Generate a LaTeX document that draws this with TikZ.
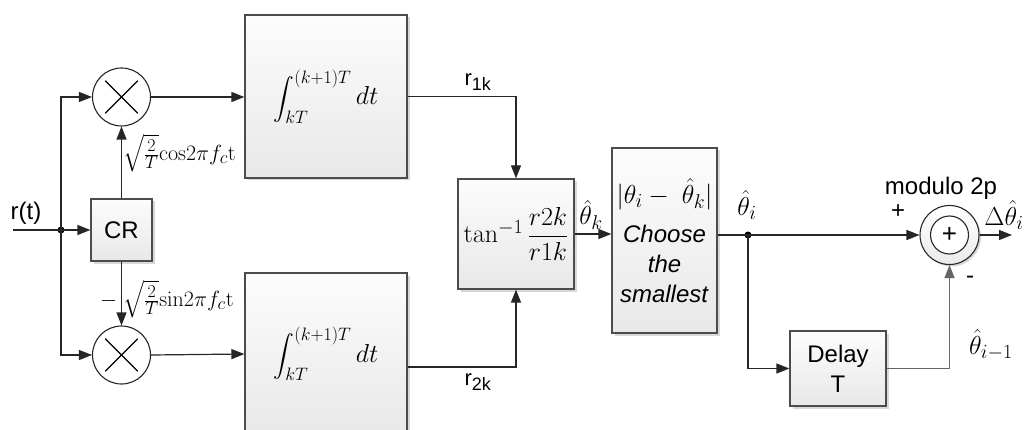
\RequirePackage{fix-cm}
\documentclass[tikz,border=0pt]{standalone}
\usepackage{amsmath}
\usepackage[no-math]{fontspec}
\setmainfont{Liberation Sans}
\usetikzlibrary{arrows.meta,shadows,calc}

% larger script sizes for the formulas
\DeclareMathSizes{22}{22}{18}{14}
\DeclareMathSizes{24}{24}{19}{14}
\DeclareMathSizes{26}{26}{20}{15}

\tikzset{
  wire/.style={line width=1.2pt, draw=black!85},
  arr/.style={wire, -{Triangle[length=13pt,width=10pt]}},
  blk/.style={draw=black!70, line width=1.2pt, rectangle, top color=black!1, bottom color=black!9,
    drop shadow={shadow xshift=2.5pt, shadow yshift=-2.5pt, fill=black!30, opacity=0.5},
    inner sep=0pt, align=center, font=\fontsize{24}{30}\selectfont},
  mix/.style={draw=black!85, line width=1.1pt, circle, fill=white, minimum size=58pt, inner sep=0pt},
  sumc/.style={draw=black!85, line width=1.1pt, circle, top color=white, bottom color=black!8,
    drop shadow={shadow xshift=2pt, shadow yshift=-2pt, fill=black!30, opacity=0.5},
    minimum size=59pt, inner sep=0pt},
  lbl/.style={inner sep=0pt, font=\fontsize{24}{28}\selectfont},
  mlbl/.style={inner sep=0pt, font=\fontsize{26}{30}\selectfont},
  junction/.style={circle, fill=black, minimum size=7pt, inner sep=0pt},
}
\newcommand{\integ}{{\fontsize{22}{26}\selectfont$\displaystyle\int_{kT}^{(k+1)T}$}%
  {\fontsize{26}{30}\selectfont$\,dt$}}

\begin{document}
\begin{tikzpicture}[x=1pt,y=-1pt]
\useasboundingbox (0,0) rectangle (1024,430);

% mixers and carrier recovery
\node[mix] (mulT) at (121.5,97) {};
\node[mix] (mulB) at (121.5,355) {};
\foreach \m in {mulT,mulB}{
  \draw[line width=1.1pt] ($(\m)!0.78!(\m.45)$) -- ($(\m)!0.78!(\m.225)$);
  \draw[line width=1.1pt] ($(\m)!0.78!(\m.135)$) -- ($(\m)!0.78!(\m.315)$);
}
\node[blk, minimum width=61pt, minimum height=62pt] (cr) at (121.5,230) {CR};

% integrators
\node[blk, minimum width=162pt, minimum height=163pt] (intT) at (326,96.5) {\integ};
\node[blk, minimum width=162pt, minimum height=162pt] (intB) at (326,354) {\integ};

% phase estimate and decision
\node[blk, minimum width=116pt, minimum height=110pt, font=\fontsize{26}{30}\selectfont] (tan) at (516,234)
  {$\tan^{-1}\dfrac{r2k}{r1k}$};
\node[blk, minimum width=105pt, minimum height=185pt] (choose) at (664.5,240.5)
  {{\fontsize{26}{30}\selectfont$|\theta_i-\ \hat{\theta}_k|$}\\[9pt]\textit{Choose}\\\textit{the}\\\textit{smallest}};
\node[blk, minimum width=96pt, minimum height=75pt] (delay) at (838,368.5) {Delay\\T};

% differencing node
\node[sumc] (sum) at (949.5,235) {};
\node[circle, draw=black!85, line width=1.1pt, fill=white, minimum size=38pt, inner sep=0pt,
  font=\fontsize{26}{28}\selectfont] (sumin) at (sum) {+};

% input
\coordinate (in) at (13,230);
\node[junction] (dot) at (61,230) {};
\node[lbl] (rt) at (26,213) {r(t)};

% connectors
\draw[wire] (in) -- (dot.center);
\draw[arr] (dot.center) -- (cr.west);
\draw[arr] (dot.center) |- (mulT.west);
\draw[arr] (dot.center) |- (mulB.west);
\draw[arr] (cr.north) -- (mulT.south);
\draw[arr] (cr.south) -- (mulB.north);
\draw[arr] (mulT.east) -- (intT.west |- mulT.east);
\draw[arr] (mulB.east) -- (intB.west);
\draw[arr] (intT.east) -| (tan.north);
\draw[arr] ([yshift=-13pt]intB.east) -| (tan.south);
\draw[arr] (tan.east) -- (tan.east -| choose.west);

\node[junction] (split) at (748,235) {};
\draw[wire] (choose.east |- split.center) -- (split.center);
\draw[arr] (split.center) -- (sum.west);
\draw[arr] (split.center) |- (delay.west);
\draw[arr, draw=black!60] (delay.east) -| (sum.south);
\coordinate (out) at (1012,235);
\draw[arr] (sum.east) -- (out);

% labels
\node[lbl, anchor=west, font=\fontsize{22}{26}\selectfont] (cosl) at (123,153)
  {$\sqrt{\frac{2}{T}}\mathrm{cos}2\pi f_c\mathrm{t}$};
\node[lbl, anchor=west, font=\fontsize{22}{26}\selectfont] (sinl) at (100,299)
  {$-\;\sqrt{\frac{2}{T}}\mathrm{sin}2\pi f_c\mathrm{t}$};
\node[lbl, font=\fontsize{22}{26}\selectfont] (r1) at (478,82) {r\textsubscript{1k}};
\node[lbl, font=\fontsize{22}{26}\selectfont] (r2) at (478,382) {r\textsubscript{2k}};
\node[mlbl] (thk) at (591,215) {$\hat{\theta}_k$};
\node[mlbl] (thi) at (747,205) {$\hat{\theta}_i$};
\node[lbl] (mod) at (941,188) {modulo 2p};
\node[lbl] (plus) at (898,212) {+};
\node[lbl] (minus) at (970,280) {-};
\node[mlbl] (dth) at (1004,215) {$\Delta\hat{\theta}_i$};
\node[mlbl] (thim) at (991,345) {$\hat{\theta}_{i-1}$};
\end{tikzpicture}
\end{document}
